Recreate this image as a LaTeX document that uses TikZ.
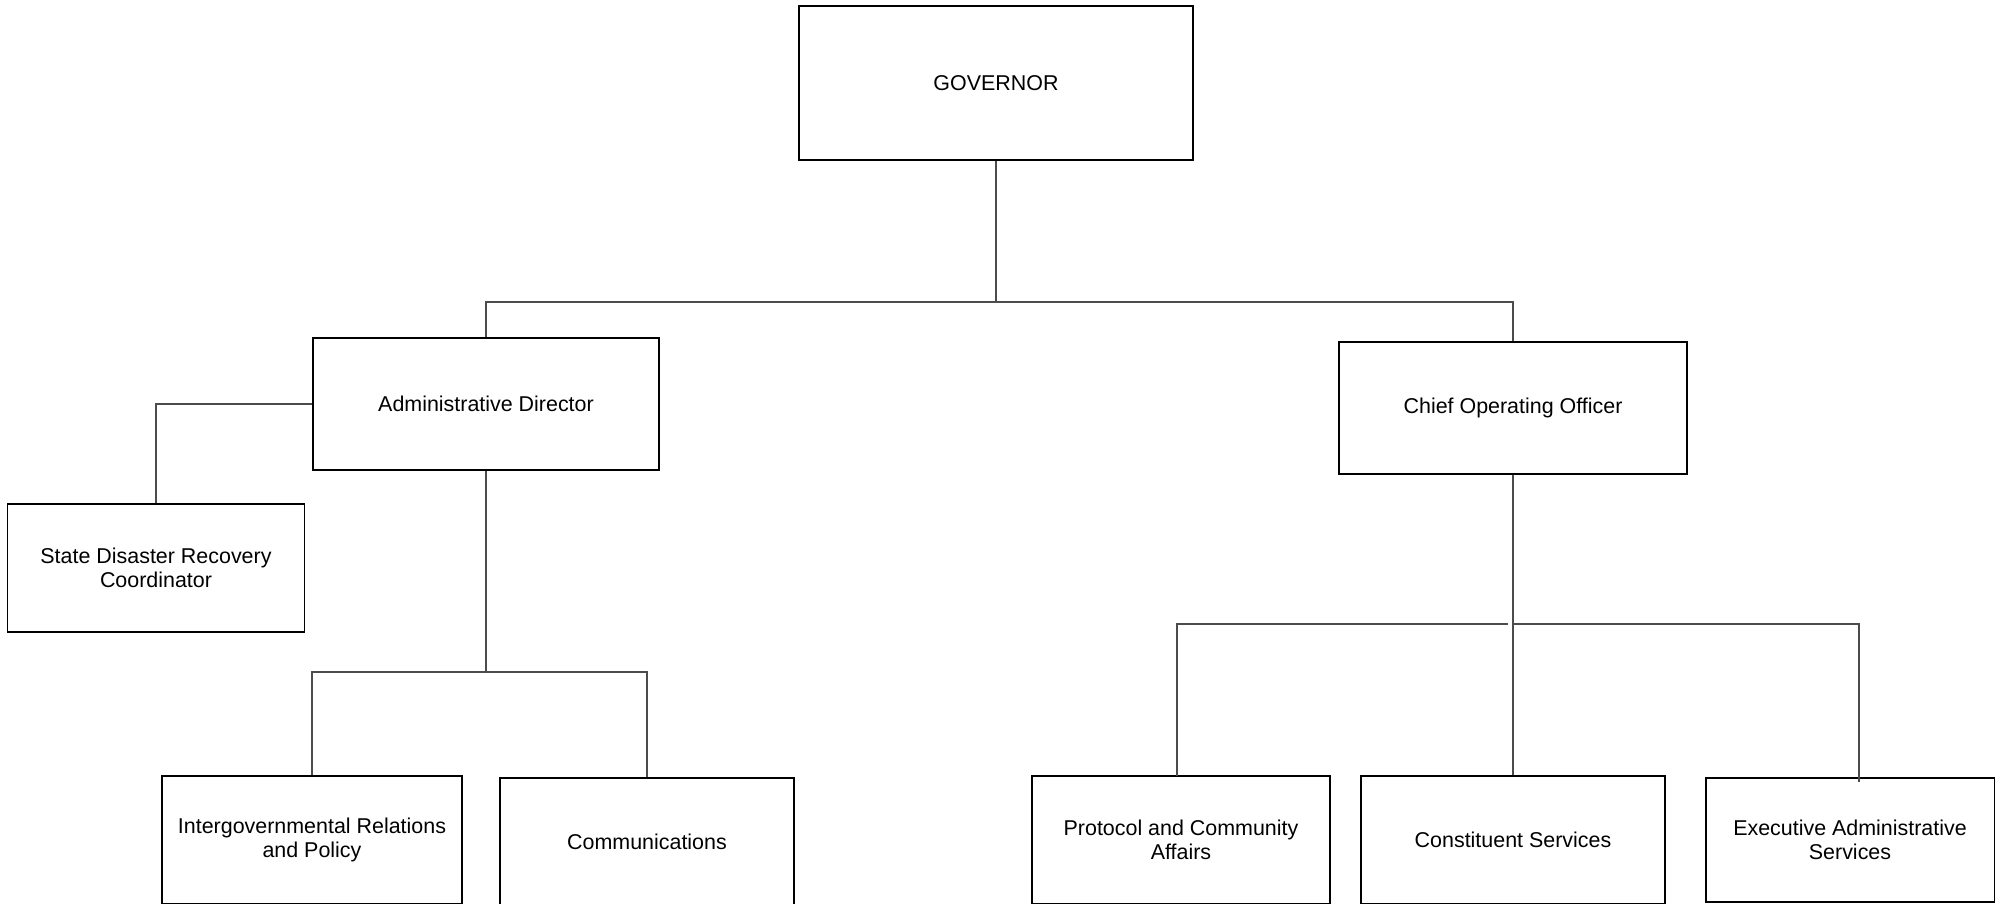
\documentclass[tikz,border=0pt]{standalone}
\usepackage{fontspec}
\setmainfont{Liberation Sans}
\tikzstyle{post} = [rectangle, draw=black, line width=1.1pt, align=center, inner sep=0pt, font=\fontsize{12.2}{13.6}\selectfont]
\tikzstyle{link} = [draw=black!70, line width=0.6pt]

\begin{document}
\begin{tikzpicture}[x=0.02cm,y=-0.02cm]
      \useasboundingbox (0,0) rectangle (2001,903);

      \node (gov) [post, minimum width=7.88cm, minimum height=3.08cm] at (996,83) {GOVERNOR};
      \node (admin) [post, minimum width=6.92cm, minimum height=2.64cm] at (486,404) {Administrative Director};
      \node (coo) [post, minimum width=6.96cm, minimum height=2.64cm] at (1513,408) {Chief Operating Officer};
      \node (sdrc) [post, minimum width=5.94cm, minimum height=2.56cm] at (156,568) {State Disaster Recovery\\Coordinator};

      \node (igr) [post, minimum width=6cm, minimum height=2.56cm] at (312,840) {Intergovernmental Relations\\and Policy};
      \node (comm) [post, minimum width=5.88cm, minimum height=2.56cm] at (647,842) {Communications};
      \node (pca) [post, minimum width=5.96cm, minimum height=2.56cm] at (1181,840) {Protocol and Community\\Affairs};
      \node (cs) [post, minimum width=6.08cm, minimum height=2.56cm] at (1513,840) {Constituent Services};
      \node (eas) [post, minimum width=5.78cm, minimum height=2.48cm] at (1850,840) {Executive Administrative\\Services};

      \coordinate (govbar) at (996,302);
      \coordinate (adminbar) at (486,672);
      \coordinate (coobar) at (1513,624);
      \coordinate (coobarl) at (1508,624);
      \coordinate (pcain) at (1177,776);
      \coordinate (easin) at (1859,782);

      \draw [link] (gov) -- (govbar);
      \draw [link] (admin) |- (govbar) -| (coo);
      \draw [link] (admin) -| (sdrc);
      \draw [link] (admin) -- (adminbar);
      \draw [link] (igr) |- (adminbar) -| (comm);
      \draw [link] (coo) -- (cs);
      \draw [link] (pcain) |- (coobarl);
      \draw [link] (easin) |- (coobar);
    \end{tikzpicture}
\end{document}
